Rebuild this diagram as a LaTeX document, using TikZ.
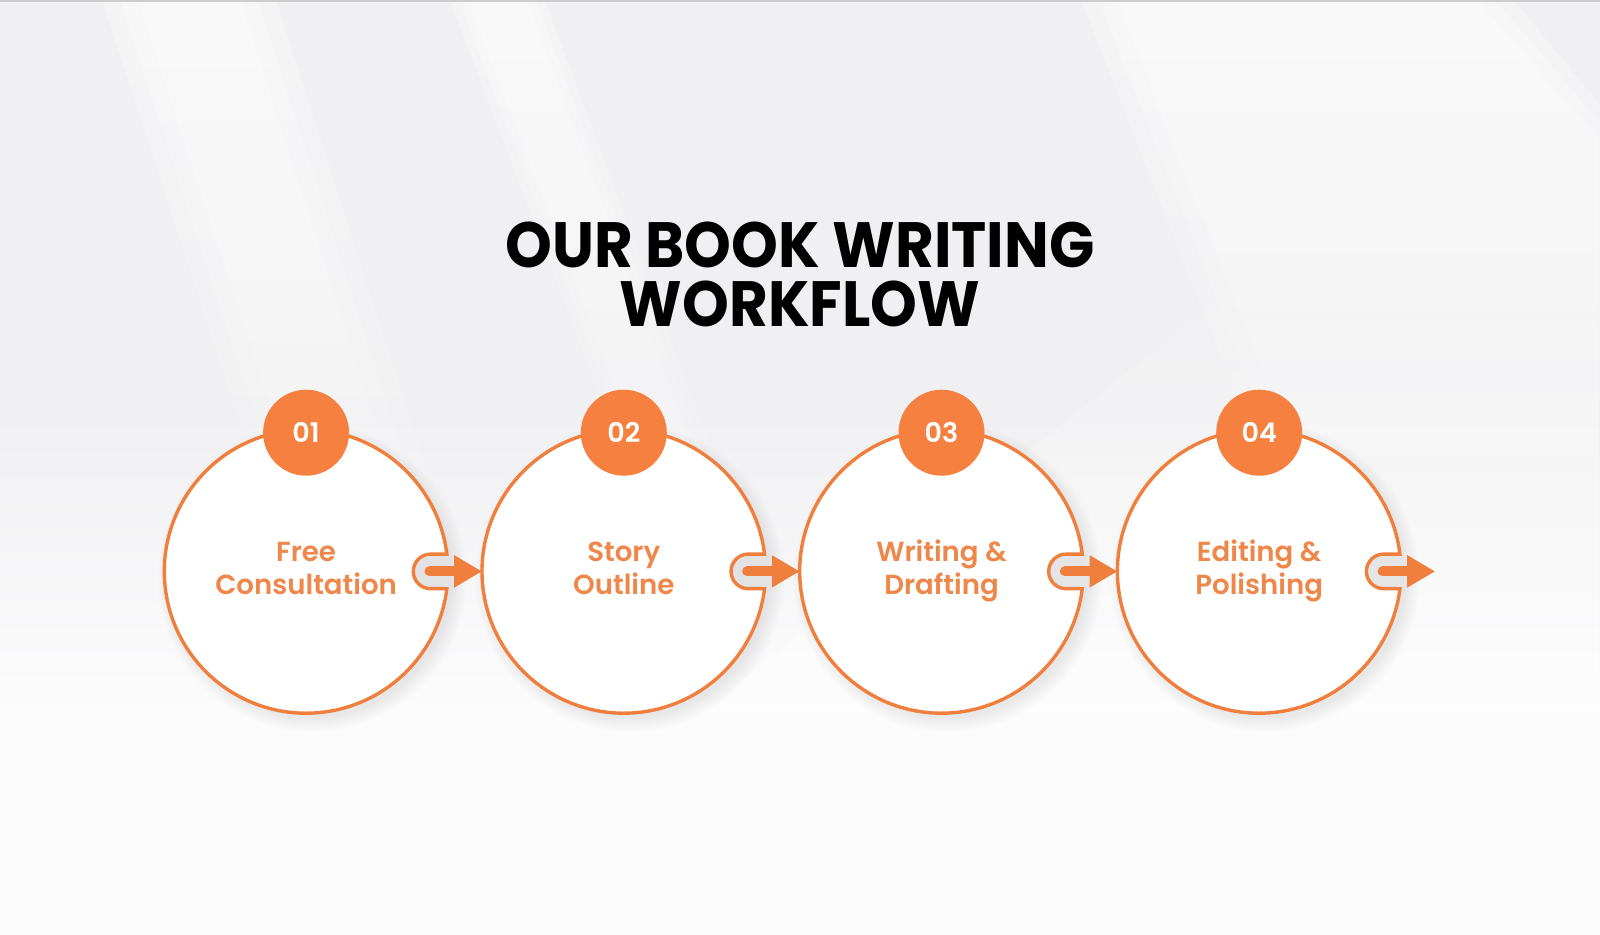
\documentclass[tikz,border=0pt]{standalone}
\usepackage{fontspec}
\setmainfont{Poppins}
\newfontfamily\poptitle{Poppins Bold}[FakeStretch=0.93]
\newfontfamily\popsemi{Poppins SemiBold}
\usetikzlibrary{fadings}
\definecolor{org}{HTML}{F07F3E}
\definecolor{orgbadge}{HTML}{F5803F}
\definecolor{orgtxt}{HTML}{EE8749}
\definecolor{bg}{HTML}{F0F0F2}
\definecolor{bglow}{HTML}{FCFCFD}
\tikzset{
  ring/.style={fill=white, draw=org, line width=3.4pt},
  badge/.style={circle, fill=orgbadge, minimum size=86pt, inner sep=0pt, text=white,
    font=\popsemi\fontsize{27}{27}\selectfont},
  label/.style={anchor=base, text=orgtxt, font=\popsemi\fontsize{27.6}{28}\selectfont},
  title/.style={anchor=base, text=black, font=\poptitle\fontsize{64}{64}\selectfont},
  shaft/.style={draw=org, line width=10.2pt, line cap=round},
  head/.style={fill=org},
  streak/.style={fill=white, opacity=0.3, path fading=south},
}
\begin{document}
\begin{tikzpicture}[x=1pt,y=1pt]
\useasboundingbox (0,0) rectangle (1600,934);
% background
\fill[bg] (0,0) rectangle (1600,934);
\shade[top color=bg, bottom color=bglow] (0,220) rectangle (1600,520);
\fill[bglow] (0,0) rectangle (1600,220);
% soft light streaks (three layers each for soft edges)
\foreach \d in {0,18,36}{
  \fill[streak] (102+\d,934) -- (276-\d,934) -- (500-\d,234) -- (330+\d,234) -- cycle;
  \fill[streak] (450+\d/2,934) -- (545-\d/2,934) -- (780-\d/2,300) -- (690+\d/2,300) -- cycle;
  \fill[streak] (1081+\d,934) -- (1514-\d,934) -- (1600,830-\d) -- (1600,300+\d) -- (1330+\d,300) -- cycle;
}
\fill[white, opacity=0.5, path fading=north] (700,220) -- (1600,220) -- (1600,700) -- (1300,700) -- cycle;
\draw[color=black!20, line width=3pt] (0,933) -- (1600,933);
% title
\node[title] (title1) at (800,666.7) {OUR BOOK WRITING};
\node[title] (title2) at (800,607.5) {WORKFLOW};
% steps
\foreach \i/\cx/\num/\la/\lb in {1/306.1/01/Free/Consultation,
                                  2/623.8/02/Story/Outline,
                                  3/941.5/03/Writing \&/Drafting,
                                  4/1259.2/04/Editing \&/Polishing}{
  % soft shadow
  \foreach \k in {0,...,9}{
    \fill[black, opacity=0.009] (\cx+6,356) circle[radius=140+1.6*\k];
  }
  % ring with notch
  \path[ring] (\cx,362.6) ++(7.01:141.8)
     arc[start angle=7.01, end angle=352.99, radius=141.8]
     -- (\cx+124.5,345.3)
     arc[start angle=-90, end angle=-270, radius=17.3]
     -- cycle;
  % arrow
  \coordinate (n\i) at (\cx+123.5,362.6);
  \coordinate (t\i) at (\cx+151,362.6);
  \draw[shaft] (n\i) -- (t\i);
  \fill[head] (\cx+148,378.9) -- (\cx+175.5,362.6) -- (\cx+148,346.3) -- cycle;
  % badge
  \node[badge] (b\i) at (\cx,501.3) {\num};
  % label
  \node[label] (la\i) at (\cx,372.5) {\la};
  \node[label] (lb\i) at (\cx,339) {\lb};
}
\end{tikzpicture}
\end{document}
